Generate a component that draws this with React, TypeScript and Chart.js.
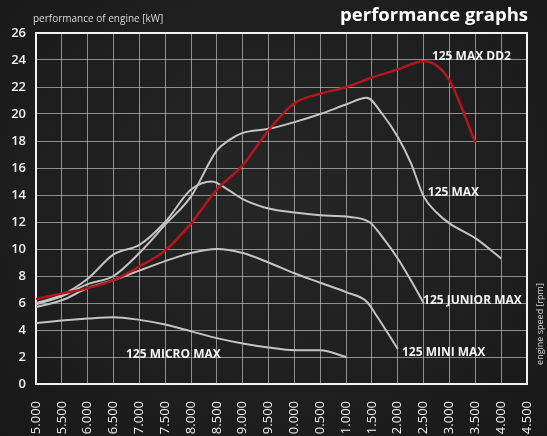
import React, { useEffect, useRef } from "react";
import { Chart, registerables } from "chart.js";

Chart.register(...registerables);

// ---- data (engine speed in rpm, power in kW) ----
const dd2Rpm = [5000, 5500, 6000, 6500, 7000, 7500, 8000, 8500, 9000, 9500, 10000, 10500, 11000, 11500, 12000, 12500, 12750, 13000, 13500];
const dd2Kw = [6.3, 6.7, 7.1, 7.7, 8.7, 9.9, 11.9, 14.4, 16.2, 18.8, 20.8, 21.5, 22.0, 22.7, 23.3, 23.9, 23.6, 22.5, 17.9];

const maxRpm = [5000, 5500, 6000, 6500, 7000, 7500, 8000, 8500, 8750, 9000, 9500, 10000, 10500, 11000, 11400, 11700, 12000, 12250, 12500, 12750, 13000, 13500, 14000];
const maxKw = [5.9, 6.5, 7.4, 8.0, 9.7, 11.8, 13.9, 17.3, 18.1, 18.6, 18.9, 19.4, 20.0, 20.7, 21.2, 20.0, 18.3, 16.4, 13.9, 12.7, 11.9, 10.8, 9.3];

const juniorRpm = [5000, 5500, 6000, 6500, 7000, 7500, 8000, 8400, 8750, 9000, 9500, 10000, 10500, 11000, 11450, 11700, 12000, 12250, 12500];
const juniorKw = [6.0, 6.6, 7.8, 9.6, 10.3, 12.0, 14.4, 15.0, 14.3, 13.7, 13.0, 12.7, 12.5, 12.4, 12.0, 10.9, 9.3, 7.7, 6.0];

const miniRpm = [5000, 5500, 6000, 6500, 7000, 7500, 8000, 8500, 9000, 9500, 10000, 10500, 11000, 11400, 11600, 12000];
const miniKw = [5.7, 6.2, 7.1, 7.7, 8.4, 9.1, 9.7, 10.0, 9.7, 9.0, 8.2, 7.5, 6.8, 6.1, 5.0, 2.6];

const microRpm = [5000, 5500, 6000, 6500, 7000, 7500, 8000, 8500, 9000, 9500, 10000, 10500, 11000];
const microKw = [4.5, 4.7, 4.85, 4.95, 4.75, 4.4, 3.9, 3.4, 3.0, 2.7, 2.5, 2.5, 2.0];

const curveLabels = ["125 MAX DD2", "125 MAX", "125 JUNIOR MAX", "125 MINI MAX", "125 MICRO MAX"];
const curveLabelRpm = [12660, 12580, 12490, 12080, 6740];
const curveLabelKw = [24.25, 14.2, 6.2, 2.35, 2.2];

const title = "performance graphs";
const yTitle = "performance of engine [kW]";
const xTitle = "engine speed [rpm]";

const rpmMin = 5000;
const rpmMax = 14500;
const rpmStep = 500;
const kwMin = 0;
const kwMax = 26;
const kwStep = 2;

const toPoints = (xs: number[], ys: number[]) => xs.map((x, i) => ({ x, y: ys[i] }));

const fmtRpm = (v: number) => {
  const th = Math.floor(v / 1000);
  const rest = String(Math.round(v % 1000)).padStart(3, "0");
  return `${th}.${rest}`;
};

const FONT = "'Open Sans', 'DejaVu Sans', sans-serif";

const overlayPlugin = {
  id: "overlay",
  beforeDatasetsDraw(chart: any) {
    const { ctx, chartArea } = chart;
    ctx.save();
    ctx.strokeStyle = "#f2f2f2";
    ctx.lineWidth = 2;
    ctx.strokeRect(chartArea.left, chartArea.top, chartArea.right - chartArea.left, chartArea.bottom - chartArea.top);
    ctx.restore();
  },
  afterDatasetsDraw(chart: any) {
    const { ctx, scales } = chart;
    const xs = scales.x;
    const ys = scales.y;
    ctx.save();
    // curve labels
    ctx.fillStyle = "#f4f4f4";
    ctx.font = `bold 12px ${FONT}`;
    ctx.textAlign = "left";
    ctx.textBaseline = "middle";
    curveLabels.forEach((t, i) => {
      ctx.fillText(t, xs.getPixelForValue(curveLabelRpm[i]), ys.getPixelForValue(curveLabelKw[i]));
    });
    // titles
    ctx.font = `bold 18.5px ${FONT}`;
    ctx.textAlign = "right";
    ctx.fillStyle = "#ffffff";
    ctx.fillText(title, 528, 16);
    ctx.font = `10px ${FONT}`;
    ctx.textAlign = "left";
    ctx.fillStyle = "#d8d8d8";
    ctx.fillText(yTitle, 33, 19, 134);
    ctx.translate(540, 324);
    ctx.rotate(-Math.PI / 2);
    ctx.textAlign = "center";
    ctx.font = `9px ${FONT}`;
    ctx.fillText(xTitle, 0, 0);
    ctx.restore();
  },
};

export default function App() {
  const ref = useRef<HTMLCanvasElement | null>(null);
  useEffect(() => {
    if (!ref.current) return;
    const gray = "#c4c4c4";
    const chart = new Chart(ref.current, {
      type: "line",
      data: {
        datasets: [
          { label: "125 MAX DD2", data: toPoints(dd2Rpm, dd2Kw), borderColor: "#b5161c", borderWidth: 2.5 },
          { label: "125 MAX", data: toPoints(maxRpm, maxKw), borderColor: gray, borderWidth: 2 },
          { label: "125 JUNIOR MAX", data: toPoints(juniorRpm, juniorKw), borderColor: gray, borderWidth: 2 },
          { label: "125 MINI MAX", data: toPoints(miniRpm, miniKw), borderColor: gray, borderWidth: 2 },
          { label: "125 MICRO MAX", data: toPoints(microRpm, microKw), borderColor: gray, borderWidth: 2 },
        ],
      },
      options: {
        animation: false,
        responsive: true,
        maintainAspectRatio: false,
        elements: {
          point: { radius: 0 },
          line: { cubicInterpolationMode: "monotone", fill: false },
        },
        layout: { padding: { top: 33, right: 20, left: 0, bottom: 0 } },
        plugins: { legend: { display: false }, tooltip: { enabled: false } },
        scales: {
          x: {
            type: "linear",
            min: rpmMin,
            max: rpmMax,
            afterFit: (s: any) => { s.height = 52; s.paddingRight = 0; s.paddingLeft = 0; },
            ticks: {
              stepSize: rpmStep,
              autoSkip: false,
              maxRotation: 90,
              minRotation: 90,
              padding: 17,
              color: "#f0f0f0",
              font: { family: FONT, size: 13 },
              callback: (v: any) => fmtRpm(Number(v)),
            },
            grid: { color: "rgba(215,215,215,0.6)", lineWidth: 1, drawTicks: false },
            border: { color: "#f2f2f2", width: 2 },
          },
          y: {
            min: kwMin,
            max: kwMax,
            afterFit: (s: any) => { s.width = 36; },
            ticks: {
              stepSize: kwStep,
              padding: 10,
              color: "#f0f0f0",
              font: { family: FONT, size: 13, weight: "600" },
            },
            grid: { color: "rgba(215,215,215,0.6)", lineWidth: 1, drawTicks: false },
            border: { color: "#f2f2f2", width: 2 },
          },
        },
      },
      plugins: [overlayPlugin],
    } as any);
    return () => chart.destroy();
  }, []);
  return (
    <div style={{ position: "fixed", left: 0, top: 0, width: 547, height: 436, background: "radial-gradient(ellipse at 50% 45%, #262626 0%, #1d1d1d 70%, #181818 100%)" }}>
      <canvas ref={ref} />
    </div>
  );
}
